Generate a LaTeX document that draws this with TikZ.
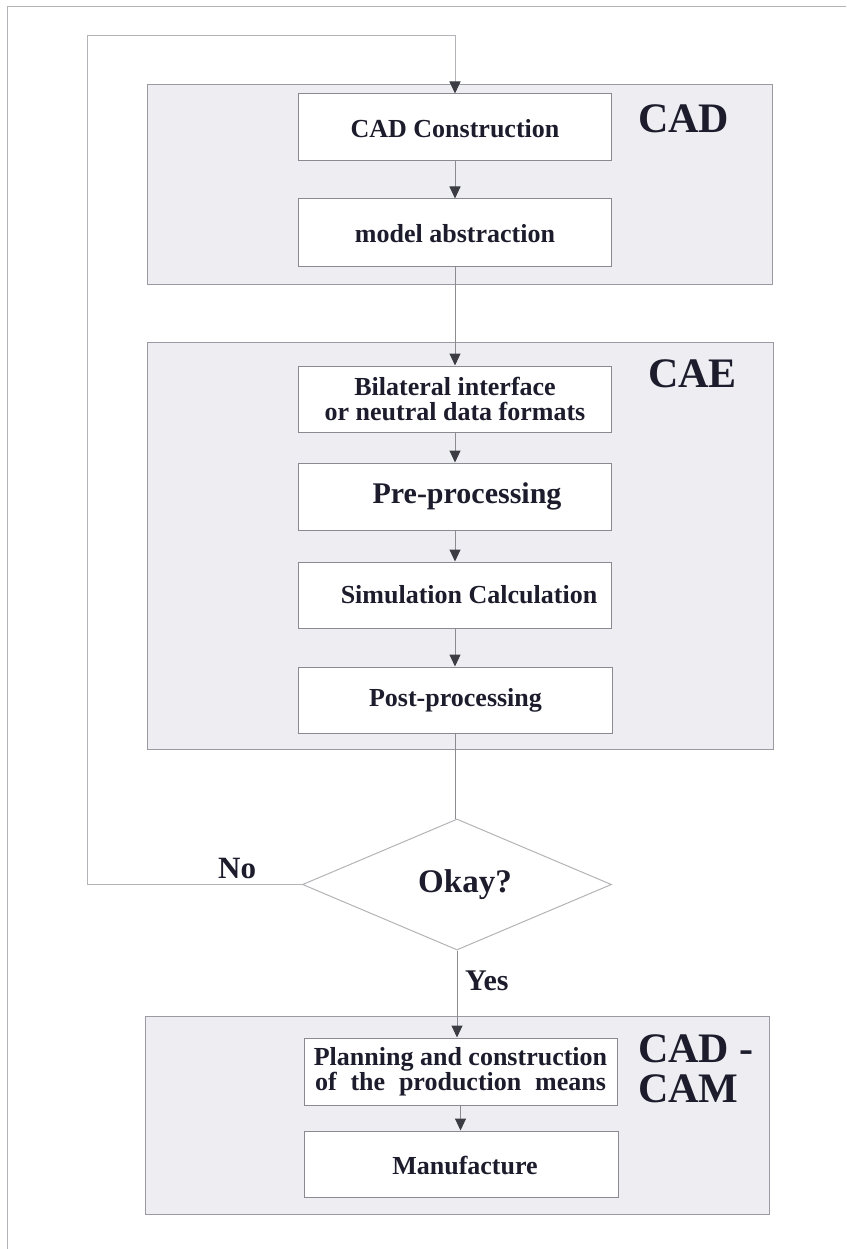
\documentclass[tikz,border=0pt]{standalone}
\usepackage{fontspec}
\setmainfont{Liberation Serif}
\usetikzlibrary{arrows.meta,shapes.geometric}
\definecolor{zonefill}{HTML}{EEEEF2}
\definecolor{zoneline}{HTML}{9A9AA2}
\definecolor{boxline}{HTML}{8A8A92}
\definecolor{wire}{HTML}{8C8C90}
\definecolor{tip}{HTML}{3C3C44}
\definecolor{ink}{HTML}{1C1C2C}
\definecolor{frame}{HTML}{B4B4B8}

\begin{document}
\begin{tikzpicture}[x=1pt,y=-1pt,
  zone/.style={draw=zoneline, fill=zonefill, line width=1pt, inner sep=0pt},
  stepbox/.style={draw=boxline, fill=white, line width=1pt, minimum width=313pt,
    minimum height=67pt, inner sep=0pt, text=ink, align=center,
    font=\fontsize{26}{25}\selectfont\bfseries},
  oneline/.style={text height=21pt, text depth=0pt},
  flow/.style={draw=wire, line width=1pt, -{Triangle[length=12pt,width=11pt,color=tip]}},
  plain/.style={draw=wire, line width=1pt},
  loopline/.style={draw=frame, line width=1pt, -{Triangle[length=12pt,width=11pt,color=tip]}},
  tag/.style={font=\fontsize{42}{40}\selectfont\bfseries, text=ink, inner sep=0pt, anchor=base west},
  answer/.style={font=\fontsize{31}{31}\selectfont\bfseries, text=ink, inner sep=0pt, anchor=base west},
]
\useasboundingbox (0,0) rectangle (846,1249);

% page rules along the top and left edge
\draw[frame, line width=1pt] (846,7) -- (7,7) -- (7,1249);

% shaded stage areas
\node[zone, minimum width=625pt, minimum height=199pt] (cadzone) at (459.5,184.5) {};
\node[zone, minimum width=626pt, minimum height=407pt] (caezone) at (460,545.5) {};
\node[zone, minimum width=624pt, minimum height=198pt] (camzone) at (457,1115) {};

% stage titles
\node[tag] (cadtag) at (638,133) {CAD};
\node[tag] (caetag) at (648,387) {CAE};
\node[tag, align=left, anchor=north west] (camtag) at (638,1034) {CAD -\\CAM};

% process steps
\node[stepbox, oneline] (cadc) at (455,127.5) {CAD Construction};
\node[stepbox, oneline] (abst) at (455,232.5) {model abstraction};
\node[stepbox, minimum height=66pt] (bilat) at (455,399) {Bilateral interface\\or neutral data formats};
\node[stepbox, font=\fontsize{30}{30}\selectfont\bfseries] (pre) at (455,496.5) {\hspace*{24pt}Pre-processing};
\node[stepbox, minimum height=66pt] (sim) at (455,595) {\hspace*{28pt}Simulation Calculation};
\node[stepbox, minimum height=66pt, minimum width=314pt] (post) at (455.5,700) {Post-processing};
\node[stepbox] (plan) at (460.5,1071.5) {Planning and construction\\\makebox[291pt][s]{of the production means}};
\node[stepbox, oneline, minimum height=66pt, minimum width=314pt] (manu) at (461,1164) {\hspace*{8pt}Manufacture};

% decision
\node[diamond, draw=frame, fill=white, line width=1pt, minimum width=309pt,
  minimum height=131pt, aspect=2.35, inner sep=0pt, text=ink,
  font=\fontsize{33}{33}\selectfont\bfseries] (dia) at (457,884.5) {\hspace*{16pt}Okay?};

\node[answer] (no) at (218,878) {No};
\node[answer, font=\fontsize{30}{30}\selectfont\bfseries] (yes) at (465,990) {Yes};

% connectors
\coordinate (loopcorner) at (87,36);
\draw[loopline] (dia.west) -| (loopcorner) -| (cadc.north);
\draw[flow] (cadc.south) -- (abst.north);
\draw[flow] (abst.south) -- (bilat.north);
\draw[flow] (bilat.south) -- (pre.north);
\draw[flow] (pre.south) -- (sim.north);
\draw[flow] (sim.south) -- (sim.south |- post.north);
\draw[plain] (post.south) -- (post.south |- dia.north);
\draw[flow] (dia.south) -- (dia.south |- plan.north);
\draw[flow] (plan.south) -- (plan.south |- manu.north);
\end{tikzpicture}
\end{document}
